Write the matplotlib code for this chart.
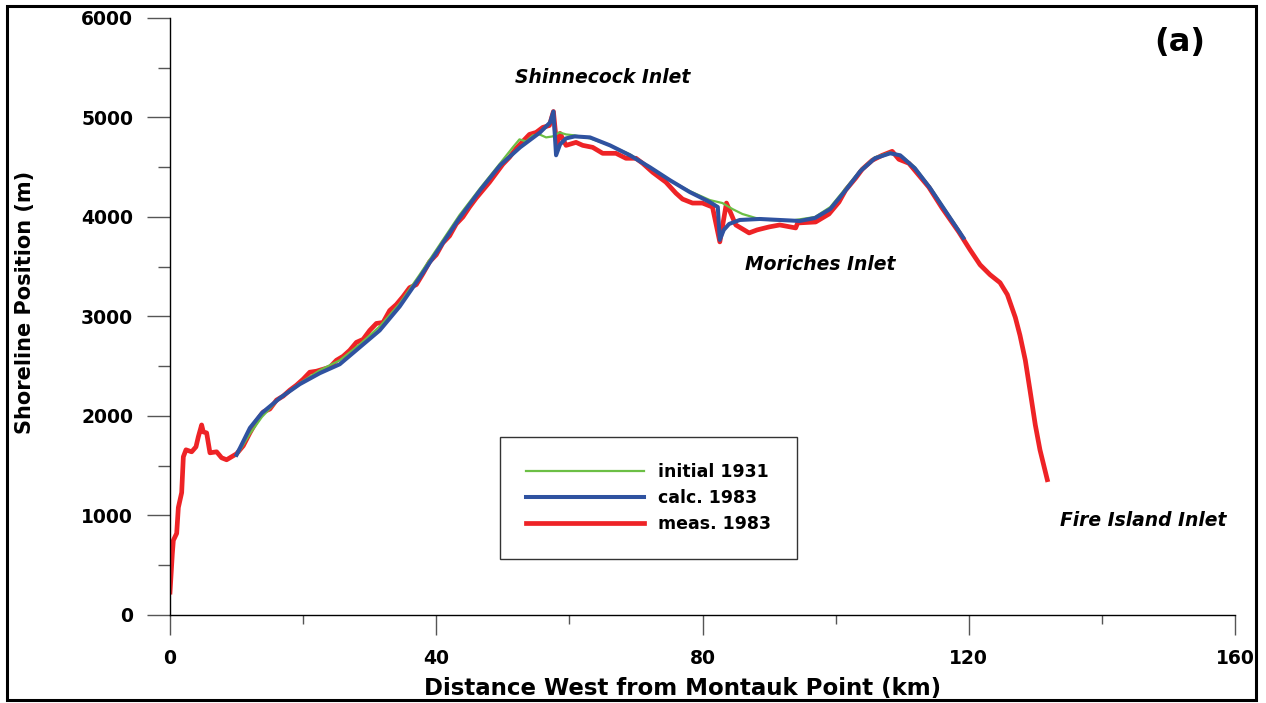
import matplotlib
matplotlib.use("Agg")
import matplotlib.pyplot as plt
from matplotlib.patches import Rectangle
from matplotlib.ticker import MultipleLocator

# calc. 1983 (km, m)
calc_x = [10, 12, 13.8, 16.5, 19.5, 22.5, 25.5, 28.5, 31.5, 34.5, 37.5, 40.5, 43.5,
          46.6, 49.6, 52.6, 55.6, 57.1, 57.6, 58.0, 58.6, 59.5, 60.8, 63.1, 66.1,
          69.1, 72.1, 75.1, 78.1, 81.1, 82.3, 82.6, 83.2, 84.0, 85.6, 88.6, 91.6,
          94.6, 96.9, 99.2, 101.4, 103.7, 105.9, 108.2, 109.7, 111.9, 114.2, 116.4,
          118.7, 119.2]
calc_y = [1610, 1880, 2030, 2180, 2320, 2430, 2520, 2690, 2860, 3100, 3390, 3690, 3990,
          4270, 4520, 4700, 4850, 4950, 5060, 4620, 4730, 4790, 4810, 4800, 4720,
          4620, 4500, 4370, 4250, 4150, 4100, 3770, 3870, 3930, 3970, 3980, 3970,
          3960, 3990, 4080, 4260, 4460, 4590, 4640, 4620, 4490, 4290, 4070,
          3840, 3790]

# initial 1931
init_x = [10, 12, 13.8, 16.5, 19.5, 22.5, 25.5, 28.5, 31.5, 34.5, 37.5, 40.5, 43.5,
          46.6, 49.6, 51.5, 52.5, 53.5, 54.5, 55.5, 56.5, 57.5, 58.5, 59.5, 60.8,
          63.1, 66.1, 69.1, 72.1, 75.1, 78.1, 81.1, 83.0, 84.5, 86, 88, 90, 93,
          96.9, 99.2, 101.4, 103.7, 105.9, 108.2, 110.0, 111.9, 114.2, 116.4, 118.7]
init_y = [1600, 1820, 1990, 2180, 2330, 2460, 2560, 2720, 2900, 3130, 3420, 3720, 4020,
          4290, 4540, 4700, 4780, 4760, 4820, 4830, 4800, 4810, 4850, 4830, 4820,
          4790, 4720, 4630, 4500, 4370, 4260, 4170, 4140, 4080, 4030, 3990, 3970, 3960,
          4000, 4100, 4280, 4470, 4600, 4650, 4610, 4500, 4300, 4080, 3850]

# meas. 1983
meas_x = [0, 0.35, 0.5, 1.0, 1.25, 1.75, 2.0, 2.4, 3.25, 3.9, 4.25, 4.75, 5.0, 5.5,
          6.0, 7.0, 7.75, 8.5, 9.25, 10.0, 11, 12, 13, 14, 15, 16, 17, 18, 19, 20,
          21, 22, 23, 24, 25, 26, 27, 28, 29, 30, 31, 32, 33, 34, 35, 36, 37, 38,
          39, 40, 41, 42, 43, 44, 45, 46, 47, 48, 49, 50, 51, 52, 53, 54, 55, 56,
          57, 57.6, 58.1, 58.6, 59.5, 61, 62, 63.5, 65, 67, 68.5, 70, 71, 72.5,
          74.5, 76, 77, 78.5, 80, 81.5, 82.6, 83.6, 85, 87, 88.2, 90, 91.6, 94,
          94.3, 97, 99, 100.5, 101.5, 103, 104, 105.5, 107, 108.5, 109.5, 111,
          112.5, 114, 116, 118.5, 120.2, 121.7, 123.2, 124.7, 125.8, 127, 127.7,
          128.5, 129.2, 130, 130.7, 131.8]
meas_y = [230, 620, 750, 820, 1080, 1230, 1590, 1660, 1640, 1690, 1790, 1910, 1840, 1830,
          1630, 1640, 1580, 1560, 1590, 1620, 1700, 1830, 1950, 2040, 2070, 2160, 2200,
          2260, 2310, 2370, 2440, 2450, 2470, 2490, 2560, 2600, 2660, 2740, 2770, 2860,
          2930, 2940, 3060, 3120, 3200, 3290, 3320, 3430, 3550, 3620, 3740, 3810, 3930,
          4000, 4100, 4190, 4270, 4350, 4440, 4530, 4600, 4690, 4760, 4830, 4850, 4900,
          4920, 5060, 4720, 4840, 4720, 4750, 4720, 4700, 4640, 4640, 4590, 4590, 4540,
          4450, 4350, 4240, 4180, 4140, 4140, 4100, 3750, 4140, 3920, 3840, 3870, 3900,
          3920, 3890, 3940, 3950, 4030, 4150, 4270, 4390, 4480, 4570, 4620, 4660, 4580,
          4540, 4420, 4300, 4090, 3850, 3670, 3520, 3420, 3340, 3220, 2990, 2810,
          2560, 2260, 1910, 1660, 1360]

fig = plt.figure(figsize=(12.66, 7.03), dpi=100)
ax = fig.add_axes([0.1343, 0.1252, 0.8412, 0.8492])

ax.plot(meas_x, meas_y, color="#ee2326", lw=3.4, label="meas. 1983", zorder=2)
ax.plot(init_x, init_y, color="#6cbf45", lw=1.6, label="initial 1931", zorder=3)
ax.plot(calc_x, calc_y, color="#2f52a0", lw=2.9, label="calc. 1983", zorder=4)

ax.set_xlim(0, 160)
ax.set_ylim(0, 6000)
ax.xaxis.set_major_locator(MultipleLocator(40))
ax.xaxis.set_minor_locator(MultipleLocator(20))
ax.yaxis.set_major_locator(MultipleLocator(1000))
ax.yaxis.set_minor_locator(MultipleLocator(500))
for s in ["top", "right"]:
    ax.spines[s].set_visible(False)
for s in ["left", "bottom"]:
    ax.spines[s].set_linewidth(1.0)
ax.tick_params(axis="x", which="major", length=14.4, width=1, color="#555555",
               pad=10, labelsize=13.5)
ax.tick_params(axis="x", which="minor", length=6.5, width=1, color="#555555")
ax.tick_params(axis="y", which="major", length=16.6, width=1, color="#555555",
               pad=10, labelsize=13.5)
ax.tick_params(axis="y", which="minor", length=8.6, width=1, color="#555555")
for lab in ax.get_xticklabels() + ax.get_yticklabels():
    lab.set_fontweight("bold")

h, l = ax.get_legend_handles_labels()
order = [1, 2, 0]
leg = ax.legend([h[i] for i in order], [l[i] for i in order],
                loc="lower left", bbox_to_anchor=(0.31, 0.094),
                prop={"weight": "bold", "size": 12.5}, frameon=True,
                fancybox=False, edgecolor="black", handlelength=6.8,
                handletextpad=0.8, labelspacing=0.45, borderpad=1.5,
                borderaxespad=0)
leg.get_frame().set_linewidth(1.0)

ax.text(51.8, 5400, "Shinnecock Inlet", fontsize=13.5, fontweight="bold",
        fontstyle="italic", va="center", ha="left")
ax.text(86.4, 3520, "Moriches Inlet", fontsize=13.5, fontweight="bold",
        fontstyle="italic", va="center", ha="left")
ax.text(133.7, 945, "Fire Island Inlet", fontsize=13.5, fontweight="bold",
        fontstyle="italic", va="center", ha="left")
ax.text(151.7, 5750, "(a)", fontsize=23, fontweight="bold", va="center", ha="center")

fig.text(683 / 1266, 1 - 688 / 703, "Distance West from Montauk Point (km)",
         fontsize=16.5, fontweight="bold", ha="center", va="center")
fig.text(25 / 1266, 1 - 302 / 703, "Shoreline Position (m)", fontsize=15,
         fontweight="bold", rotation=90, ha="center", va="center")

fig.patches.append(Rectangle((7 / 1266, 1 - 700 / 703), 1249 / 1266, 694 / 703,
                             transform=fig.transFigure, fill=False,
                             edgecolor="black", linewidth=2.2))

fig.savefig("out.png", dpi=100)
